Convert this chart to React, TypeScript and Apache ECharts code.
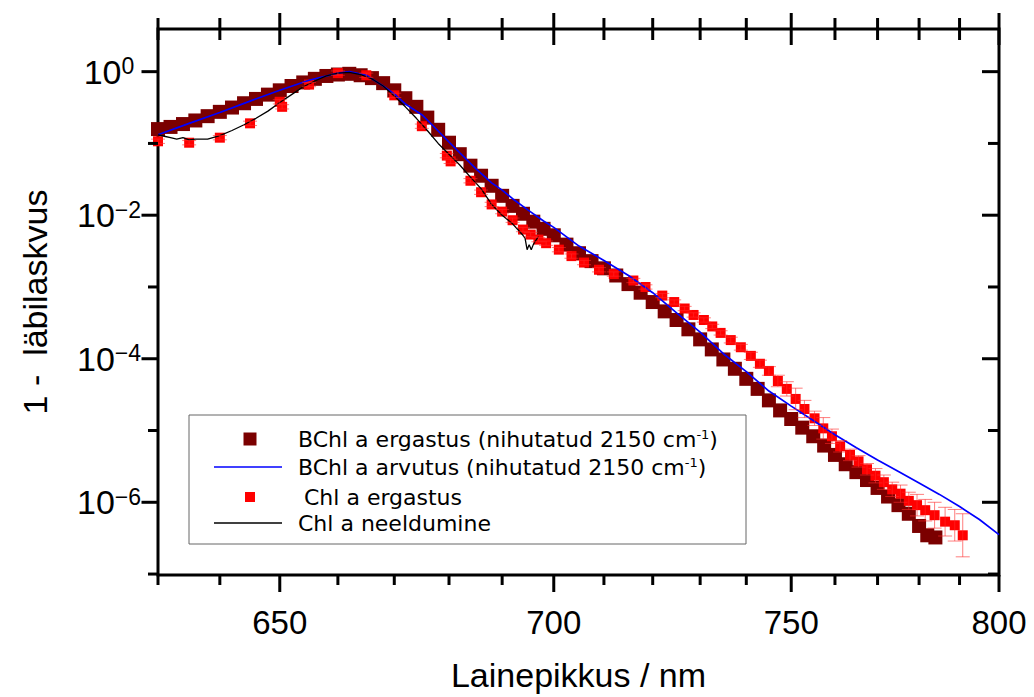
import React, { useEffect, useRef } from 'react';
import * as echarts from 'echarts';

const FONT = '"Liberation Sans", Arial, sans-serif';
const LEGEND_FONT = '"DejaVu Sans", sans-serif';

// axis ticks (wavelength in nm, y as powers of ten)
const xMajorTicks = [650, 700, 750, 800];
const xMinorTicks = [630, 640, 660, 670, 680, 690, 710, 720, 730, 740, 760, 770, 780, 790];
const yMajorExp = [0, -2, -4, -6];
const yMinorExp = [-1, -3, -5, -7];

// BChl a ergastus (measured, shifted 2150 cm-1): wavelength nm, log10(1 - T)
const bchlWl = [630, 632, 634, 636, 638, 640, 642, 644, 646, 648, 650, 652, 654, 656, 658, 660, 662, 664, 666, 668,
  670, 672, 674, 676, 678, 680, 682, 684, 686, 688, 690, 692, 694, 696, 698, 700, 702.5, 705, 707.5, 710,
  712.5, 715, 717.5, 720, 722.5, 725, 727.5, 730, 732.5, 735, 737.5, 740, 742.5, 745, 747.5, 750, 752.5, 755, 757.5, 760,
  762.5, 765, 767.5, 770, 772.5, 775, 777.5, 780, 782, 784];
const bchlLog = [-0.80, -0.77, -0.73, -0.68, -0.62, -0.56, -0.50, -0.44, -0.38, -0.32, -0.26, -0.20, -0.15, -0.10, -0.06, -0.04, -0.03, -0.05, -0.09, -0.16,
  -0.26, -0.37, -0.49, -0.64, -0.81, -0.99, -1.15, -1.31, -1.45, -1.59, -1.73, -1.87, -1.98, -2.09, -2.19, -2.28, -2.41, -2.53, -2.64, -2.74,
  -2.84, -2.96, -3.08, -3.21, -3.34, -3.46, -3.59, -3.73, -3.87, -4.01, -4.14, -4.28, -4.42, -4.58, -4.72, -4.84, -4.96, -5.08, -5.21, -5.34,
  -5.47, -5.58, -5.69, -5.80, -5.92, -6.04, -6.16, -6.33, -6.46, -6.49];

// BChl a arvutus (calculated)
const blueWl = [630, 635, 640, 645, 650, 655, 660, 662, 665, 668, 670, 672, 675, 677, 680, 682, 685, 688, 690, 692,
  695, 698, 700, 705, 710, 715, 720, 725, 730, 735, 740, 745, 750, 755, 760, 765, 770, 775, 780, 785, 790, 795, 800];
const blueLog = [-0.88, -0.72, -0.57, -0.41, -0.26, -0.12, -0.02, 0.0, -0.05, -0.20, -0.31, -0.45, -0.60, -0.75, -0.98, -1.13, -1.35, -1.55, -1.65, -1.77,
  -1.93, -2.08, -2.17, -2.43, -2.63, -2.84, -3.08, -3.36, -3.63, -3.93, -4.18, -4.45, -4.66, -4.86, -5.06, -5.24, -5.41, -5.57, -5.73, -5.89, -6.06, -6.24, -6.45];

// Chl a ergastus (measured) with error half-width in log10 units
const chlWl = [630, 635, 640, 645, 650, 650.4, 655, 660, 665, 670, 675, 679.6, 680.3, 684, 686, 688, 690, 692, 694, 695.5,
  697, 698.5, 701, 703.5, 706, 709, 712, 716, 718.5, 722, 724.5, 726.7, 728.6, 730.8, 732.6, 734.4, 736.6, 738.8, 741, 743,
  745, 747, 749, 751, 753, 755.3, 757.3, 759.3, 761.2, 763.5, 765.5, 767.5, 769.5, 771.5, 773.5, 775.5, 777.5, 779.5, 781.5, 783.8,
  786.4, 788.8, 790.8];
const chlLog = [-0.97, -0.99, -0.92, -0.72, -0.42, -0.49, -0.18, -0.02, -0.05, -0.33, -0.76, -1.17, -1.25, -1.52, -1.68, -1.85, -1.95, -2.07, -2.20, -2.27,
  -2.34, -2.39, -2.48, -2.57, -2.66, -2.76, -2.82, -2.91, -3.00, -3.12, -3.21, -3.30, -3.39, -3.46, -3.55, -3.64, -3.74, -3.84, -3.96, -4.07,
  -4.17, -4.31, -4.42, -4.56, -4.70, -4.83, -4.97, -5.08, -5.22, -5.34, -5.43, -5.54, -5.63, -5.72, -5.82, -5.88, -5.98, -6.04, -6.11, -6.18,
  -6.27, -6.32, -6.46];
const chlErrLog = [0.03, 0.03, 0.03, 0.03, 0.03, 0.03, 0.03, 0.03, 0.03, 0.03, 0.03, 0.03, 0.03, 0.03, 0.03, 0.03, 0.03, 0.03, 0.03, 0.03,
  0.03, 0.03, 0.03, 0.03, 0.03, 0.03, 0.03, 0.03, 0.03, 0.03, 0.03, 0.03, 0.03, 0.03, 0.03, 0.03, 0.04, 0.04, 0.05, 0.05,
  0.06, 0.08, 0.10, 0.15, 0.12, 0.10, 0.15, 0.10, 0.08, 0.08, 0.08, 0.08, 0.10, 0.10, 0.10, 0.12, 0.12, 0.15, 0.15, 0.18,
  0.20, 0.22, 0.30];

// Chl a neeldumine (absorption)
const blackWl = [630, 631, 632, 633, 634, 635, 636, 638, 640, 642, 644, 646, 648, 650, 652, 654, 656, 658, 660, 662,
  664, 666, 668, 670, 672, 674, 676, 678, 680, 682, 684, 686, 688, 690, 692, 693, 694, 694.4, 694.8, 695.2, 695.6, 696, 696.4, 697];
const blackLog = [-0.88, -0.90, -0.92, -0.94, -0.92, -0.95, -0.94, -0.94, -0.89, -0.82, -0.74, -0.65, -0.55, -0.43, -0.32, -0.21, -0.13, -0.06, -0.02, -0.01,
  -0.04, -0.10, -0.20, -0.34, -0.49, -0.65, -0.82, -1.00, -1.15, -1.30, -1.47, -1.63, -1.85, -2.00, -2.12, -2.20, -2.28, -2.32, -2.48, -2.41, -2.48, -2.41, -2.36, -2.30];

const seriesNames = [
  'BChl a ergastus (nihutatud 2150 cm-1)',
  'BChl a arvutus (nihutatud 2150 cm-1)',
  'Chl a ergastus',
  'Chl a neeldumine',
];

const toWn = (nm: number) => 1e7 / nm; // x axis is linear in wavenumber
const pw = (e: number) => Math.pow(10, e);
const pairs = (wl: number[], lg: number[]) => wl.map((w, i) => [toWn(w), pw(lg[i])]);

const black = '#000';

function xTicks(values: number[], major: boolean) {
  return {
    type: 'custom', silent: true, clip: false, z: 20,
    data: values.map((l) => [toWn(l), 1]),
    renderItem: (params: any, api: any) => {
      const cs = params.coordSys;
      const x = api.coord([api.value(0), 1])[0];
      const bottom = cs.y + cs.height;
      const top = cs.y;
      const out = major ? 17 : 10;
      const t = major ? 16 : 11;
      const children: any[] = [
        { type: 'line', shape: { x1: x, y1: bottom, x2: x, y2: bottom + out }, style: { stroke: black, lineWidth: 3 } },
        { type: 'line', shape: { x1: x, y1: top - t, x2: x, y2: top + t }, style: { stroke: black, lineWidth: 3 } },
      ];
      if (major) {
        children.push({
          type: 'text', x, y: bottom + 47,
          style: {
            text: String(Math.round(1e7 / api.value(0))), fontSize: 33, fontFamily: FONT, fill: black,
            align: 'center', verticalAlign: 'middle',
          },
        });
      }
      return { type: 'group', children };
    },
  };
}

function yTicks(exps: number[], major: boolean) {
  return {
    type: 'custom', silent: true, clip: false, z: 20,
    data: exps.map((e) => [14000, pw(e), e]),
    renderItem: (params: any, api: any) => {
      const cs = params.coordSys;
      const y = api.coord([api.value(0), api.value(1)])[1];
      const left = cs.x;
      const right = cs.x + cs.width;
      const lo = major ? 16.5 : 10;
      const ro = major ? 17 : 11;
      const children: any[] = [
        { type: 'line', shape: { x1: left - lo, y1: y, x2: left, y2: y }, style: { stroke: black, lineWidth: 3 } },
        { type: 'line', shape: { x1: right - ro, y1: y, x2: right, y2: y }, style: { stroke: black, lineWidth: 3 } },
      ];
      if (major) {
        const e = api.value(2);
        const sup = e === 0 ? '0' : '\u2212' + Math.abs(e);
        children.push({
          type: 'text', x: 109, y,
          style: {
            text: `{b|10}{s|${sup}}`, align: 'center', verticalAlign: 'middle', fill: black,
            rich: {
              b: { fontSize: 34, fontFamily: FONT, fill: black, verticalAlign: 'bottom' },
              s: { fontSize: 23, fontFamily: FONT, fill: black, verticalAlign: 'top' },
            },
          },
        });
      }
      return { type: 'group', children };
    },
  };
}

const errorBars = {
  type: 'custom', silent: true, clip: false, z: 8,
  data: chlWl.map((w, i) => [toWn(w), pw(chlLog[i]), pw(chlLog[i] - chlErrLog[i]), pw(chlLog[i] + chlErrLog[i])]),
  renderItem: (params: any, api: any) => {
    const x = api.value(0);
    const lo = api.coord([x, api.value(2)]);
    const hi = api.coord([x, api.value(3)]);
    const st = { stroke: 'rgba(255,40,40,0.6)', lineWidth: 1 };
    const cap = 7;
    return {
      type: 'group',
      children: [
        { type: 'line', shape: { x1: lo[0], y1: lo[1], x2: hi[0], y2: hi[1] }, style: st },
        { type: 'line', shape: { x1: lo[0] - cap, y1: lo[1], x2: lo[0] + cap, y2: lo[1] }, style: st },
        { type: 'line', shape: { x1: hi[0] - cap, y1: hi[1], x2: hi[0] + cap, y2: hi[1] }, style: st },
      ],
    };
  },
};

const legendRich = {
  n: { fontSize: 22, fontFamily: LEGEND_FONT, fill: black, verticalAlign: 'bottom' },
  s: { fontSize: 13, fontFamily: LEGEND_FONT, fill: black, verticalAlign: 'top' },
};

export default function App() {
  const ref = useRef<HTMLDivElement>(null);
  useEffect(() => {
    if (!ref.current) return;
    const chart = echarts.init(ref.current, undefined, { renderer: 'svg' });
    const option: any = {
      animation: false,
      backgroundColor: '#fff',
      grid: { left: 158, right: 35, top: 29, bottom: 112, show: true, borderColor: black, borderWidth: 3, backgroundColor: 'transparent' },
      xAxis: {
        type: 'value', min: toWn(800), max: toWn(630), inverse: true,
        axisLine: { show: false }, axisTick: { show: false }, axisLabel: { show: false }, splitLine: { show: false },
        name: 'Lainepikkus / nm', nameLocation: 'middle', nameGap: 83,
        nameTextStyle: { fontSize: 34, fontFamily: FONT, color: black },
      },
      yAxis: {
        type: 'log', logBase: 10, min: 9.7e-8, max: 3.93,
        axisLine: { show: false }, axisTick: { show: false }, axisLabel: { show: false }, splitLine: { show: false },
        name: '1 -  läbilaskvus', nameLocation: 'middle', nameGap: 106,
        nameTextStyle: { fontSize: 34, fontFamily: FONT, color: black },
      },
      series: [
        {
          name: seriesNames[0], type: 'scatter', symbol: 'rect', symbolSize: 14, clip: false, z: 2,
          itemStyle: { color: '#7b0000', opacity: 1 }, data: pairs(bchlWl, bchlLog),
        },
        {
          name: seriesNames[2], type: 'scatter', symbol: 'rect', symbolSize: 10, clip: false, z: 3,
          itemStyle: { color: '#ff0000', opacity: 1 }, data: pairs(chlWl, chlLog),
        },
        {
          name: seriesNames[1], type: 'line', symbol: 'none', showSymbol: false, smooth: false, z: 4,
          lineStyle: { color: '#0000ff', width: 1.7 }, data: pairs(blueWl, blueLog),
        },
        {
          name: seriesNames[3], type: 'line', symbol: 'none', showSymbol: false, z: 5,
          lineStyle: { color: black, width: 1.3 }, data: pairs(blackWl, blackLog),
        },
        errorBars,
        xTicks(xMajorTicks, true),
        xTicks(xMinorTicks, false),
        yTicks(yMajorExp, true),
        yTicks(yMinorExp, false),
      ],
      graphic: [
        { type: 'rect', shape: { x: 189, y: 415, width: 557, height: 129 }, style: { fill: 'transparent', stroke: '#666', lineWidth: 1 }, z: 50 },
        { type: 'rect', shape: { x: 243.5, y: 432.5, width: 13, height: 13 }, style: { fill: '#7b0000' }, z: 51 },
        { type: 'line', shape: { x1: 214, y1: 467, x2: 282, y2: 467 }, style: { stroke: '#0000ff', lineWidth: 1.6 }, z: 51 },
        { type: 'rect', shape: { x: 245, y: 492, width: 10, height: 10 }, style: { fill: '#ff0000' }, z: 51 },
        { type: 'line', shape: { x1: 214, y1: 523, x2: 282, y2: 523 }, style: { stroke: black, lineWidth: 1.3 }, z: 51 },
        {
          type: 'text', x: 298, y: 439, z: 51,
          style: { text: '{n|BChl a ergastus (nihutatud 2150 cm}{s|-1}{n|)}', rich: legendRich, verticalAlign: 'middle', align: 'left' },
        },
        {
          type: 'text', x: 298, y: 467, z: 51,
          style: { text: '{n|BChl a arvutus (nihutatud 2150 cm}{s|-1}{n|)}', rich: legendRich, verticalAlign: 'middle', align: 'left' },
        },
        {
          type: 'text', x: 304, y: 497, z: 51,
          style: { text: 'Chl a ergastus', fontSize: 22, fontFamily: LEGEND_FONT, fill: black, verticalAlign: 'middle', align: 'left' },
        },
        {
          type: 'text', x: 298, y: 523, z: 51,
          style: { text: 'Chl a neeldumine', fontSize: 22, fontFamily: LEGEND_FONT, fill: black, verticalAlign: 'middle', align: 'left' },
        },
      ],
    };
    chart.setOption(option);
    return () => chart.dispose();
  }, []);
  return <div ref={ref} style={{ position: 'absolute', left: 0, top: 0, width: 1034, height: 697 }} />;
}
